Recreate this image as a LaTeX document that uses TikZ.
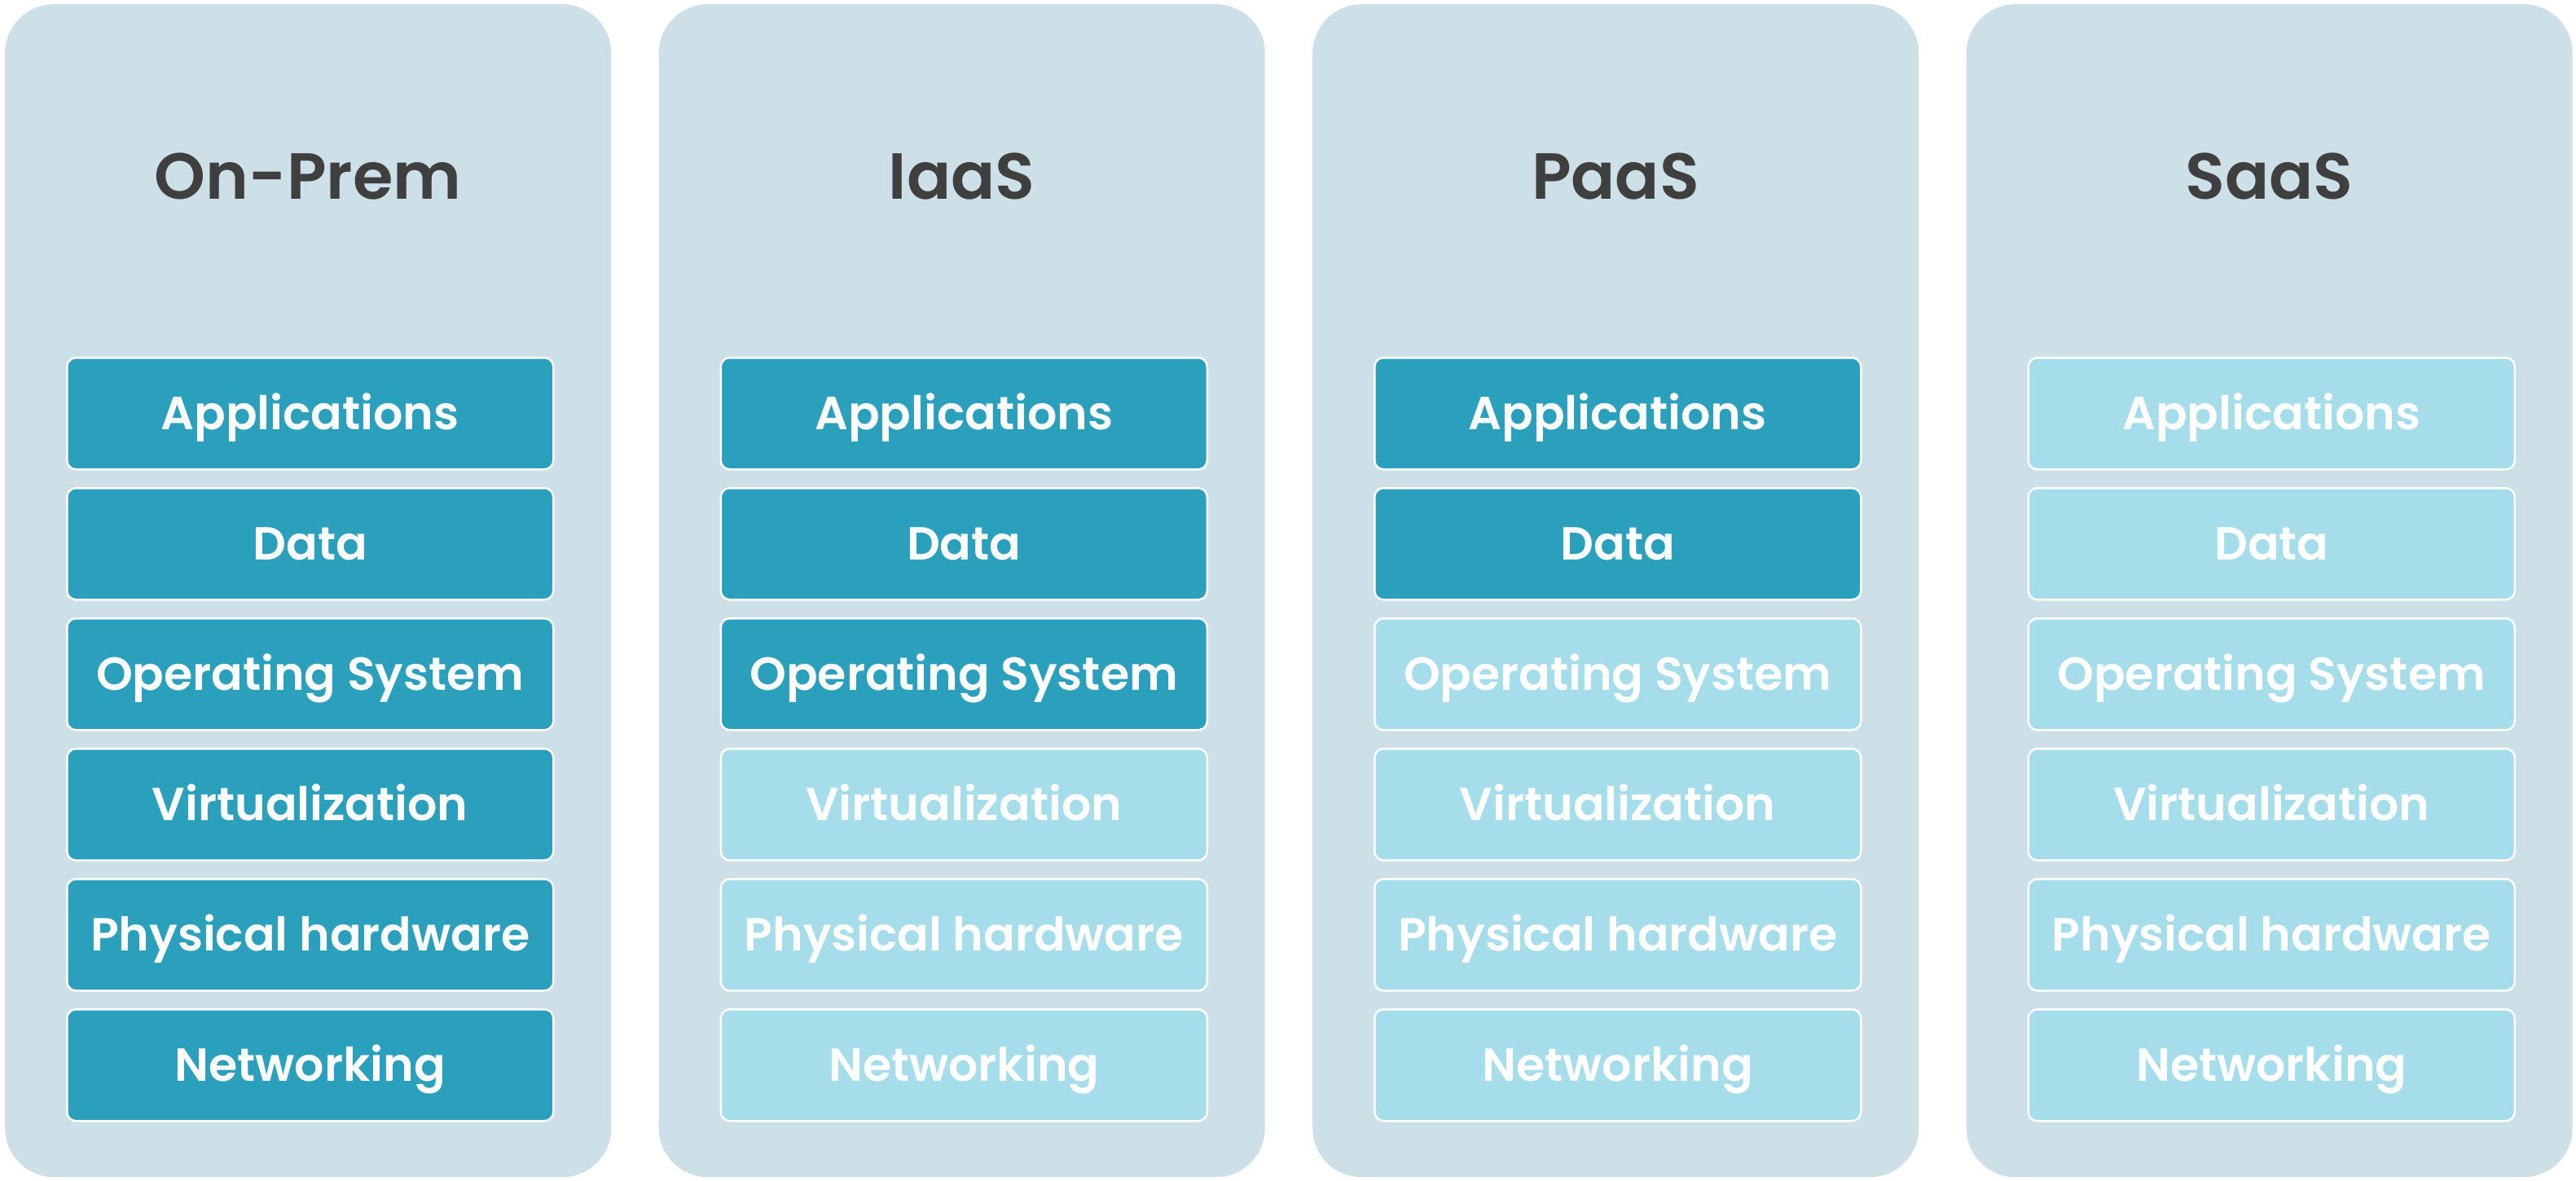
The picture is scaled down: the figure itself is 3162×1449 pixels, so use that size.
\documentclass[tikz,border=0pt]{standalone}
\usepackage{fontspec}
\setmainfont{Poppins}[BoldFont={Poppins SemiBold}]
\definecolor{panelbg}{HTML}{CEE0E7}
\definecolor{layerdark}{HTML}{2AA0BC}
\definecolor{layerlight}{HTML}{A5DDEA}
\definecolor{titlegray}{HTML}{3F3F3F}
\begin{document}
\begin{tikzpicture}[x=1pt,y=-1pt,
  panel/.style={fill=panelbg, draw=none, rounded corners=60pt, minimum width=744pt,
    minimum height=1440pt, anchor=north west, inner sep=0pt},
  layer/.style={draw=white, line width=2.5pt, rounded corners=11pt, minimum width=597pt,
    minimum height=137pt, anchor=north west, inner sep=0pt, text=white,
    font=\fontsize{57}{60}\selectfont\bfseries, text height=40pt, text depth=0pt},
  dark/.style={layer, fill=layerdark},
  light/.style={layer, fill=layerlight},
  coltitle/.style={font=\fontsize{80}{88}\selectfont\bfseries, text=titlegray,
    inner sep=0pt, text height=57pt, text depth=0pt}]
\useasboundingbox (0,0) rectangle (3162,1449);
% service models: column index / number of customer-managed layers / title
\foreach \c/\nd/\ttl in {0/6/On-Prem,1/3/IaaS,2/2/PaaS,3/0/SaaS} {
  \node[panel] (P\c) at ({6+802.5*\c},5) {};
  \node[coltitle] (T\c) at ({378+802.5*\c},216) {\ttl};
  \foreach \lbl [count=\r from 0] in {Applications,Data,Operating System,Virtualization,Physical hardware,Networking} {
    \ifnum\r<\nd \def\st{dark}\else\def\st{light}\fi
    \node[\st] (L\c-\r) at ({81+802.5*\c},{438+160*\r}) {\lbl};
  }
}
\end{tikzpicture}
\end{document}
